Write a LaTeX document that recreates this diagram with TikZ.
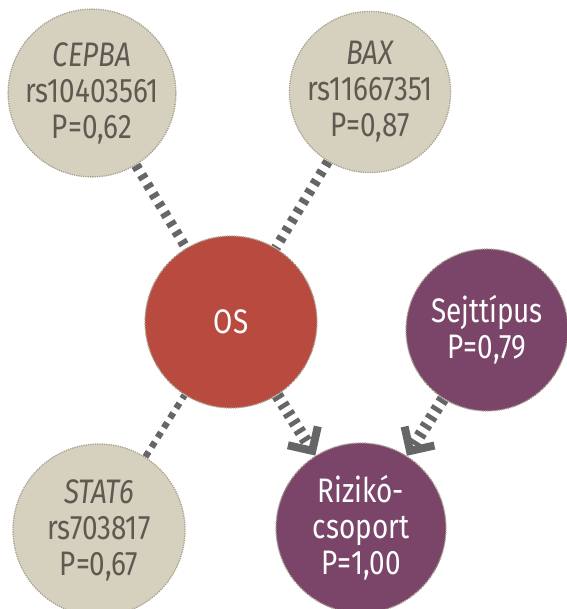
\documentclass[tikz,border=0pt]{standalone}
\usepackage{fontspec}
\setmainfont{Fira Sans}[FakeStretch=0.82]
\usetikzlibrary{arrows.meta}
\definecolor{beige}{HTML}{D6D0BE}
\definecolor{beigeedge}{HTML}{A8A28F}
\definecolor{beigetext}{HTML}{5C5A51}
\definecolor{osred}{HTML}{B84A40}
\definecolor{plum}{HTML}{7A4568}
\definecolor{linkgray}{HTML}{666666}
\pgfdeclarelayer{bg}
\pgfsetlayers{bg,main}
\begin{document}
\begin{tikzpicture}[x=1pt,y=-1pt,
  bubble/.style={circle, inner sep=0pt, align=center,
    font=\fontsize{34}{36}\selectfont,
    draw=beigeedge, densely dotted, line width=1.3pt},
  gene/.style={bubble, fill=beige, text=beigetext},
  core/.style={bubble, fill=osred, text=white},
  group/.style={bubble, fill=plum, text=white},
  link/.style={draw=linkgray, line width=10pt, line cap=butt,
    dash pattern=on 5pt off 6pt},
  thinlink/.style={draw=linkgray, line width=6.5pt, line cap=butt,
    dash pattern=on 6pt off 5.5pt},
  arrowlink/.style={draw=linkgray, line width=12pt, line cap=butt,
    dash pattern=on 4.5pt off 5.5pt,
    -{Straight Barb[angle=90:25pt, line width=8pt, sharp]}},
]
\useasboundingbox (0,0) rectangle (566,609);

% gene nodes
\node[gene, minimum size=160pt] (cepba) at (92,93)
  {{\itshape CEPBA}\\rs10403561\\P=0,62};
\node[gene, minimum size=160pt] (bax) at (370,92)
  {{\itshape BAX}\\rs11667351\\P=0,87};
\node[gene, minimum size=172pt] (stat) at (99,530)
  {{\itshape STAT6}\\rs703817\\P=0,67};

% outcome and clinical factors
\node[core, minimum size=172pt] (os) at (231,322) {OS};
\node[group, minimum size=162pt] (sejt) at (487,330)
  {Sejttípus\\P=0,79};
\node[group, minimum size=170pt] (rizi) at (361,528)
  {Rizikó-\\csoport\\P=1,00};

% connectors behind the bubbles
\begin{pgfonlayer}{bg}
  \draw[link] (cepba) -- (os);
  \draw[link] (bax) -- (os);
  \draw[thinlink] (stat) -- (os);
  \draw[arrowlink] (os) -- (rizi);
  \draw[arrowlink] (sejt) -- (rizi);
\end{pgfonlayer}
\end{tikzpicture}
\end{document}
